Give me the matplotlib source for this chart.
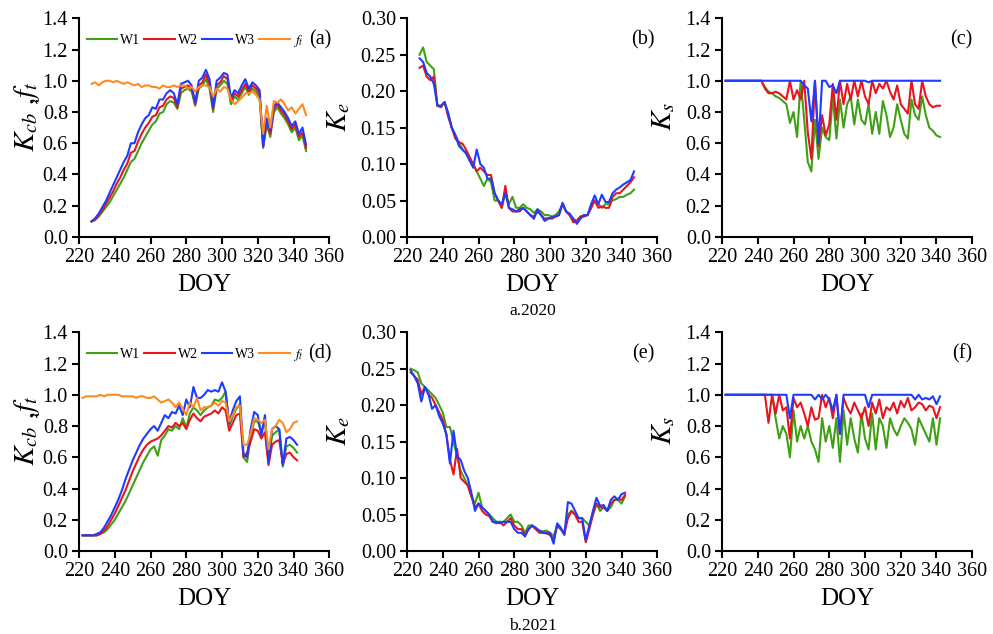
import numpy as np
import matplotlib
matplotlib.use("Agg")
import matplotlib.pyplot as plt

plt.rcParams["font.family"] = ["Liberation Serif", "DejaVu Serif"]
plt.rcParams["mathtext.fontset"] = "stix"

# DOY grids
doy20 = np.arange(227, 348, 2)
doy21 = np.arange(222, 343, 2)
doy20_ks = np.arange(222, 343, 2)

# 2020 Kcb and ft
kcb20_w1 = [0.10, 0.11, 0.13, 0.16, 0.19, 0.22, 0.26, 0.30, 0.34, 0.38,
            0.43, 0.48, 0.50, 0.55, 0.60, 0.64, 0.68, 0.72, 0.74, 0.79,
            0.80, 0.85, 0.87, 0.86, 0.82, 0.92, 0.94, 0.95, 0.93, 0.84,
            0.95, 0.97, 1.01, 0.95, 0.80, 0.95, 0.97, 1.00, 0.98, 0.85,
            0.90, 0.88, 0.92, 0.96, 0.91, 0.95, 0.93, 0.90, 0.57, 0.72,
            0.64, 0.80, 0.83, 0.79, 0.76, 0.72, 0.67, 0.70, 0.62, 0.65, 0.55]
kcb20_w2 = [0.10, 0.11, 0.14, 0.17, 0.21, 0.25, 0.29, 0.34, 0.38, 0.43,
            0.47, 0.54, 0.55, 0.61, 0.66, 0.70, 0.73, 0.77, 0.78, 0.83,
            0.84, 0.88, 0.90, 0.89, 0.83, 0.95, 0.96, 0.97, 0.95, 0.85,
            0.97, 0.99, 1.04, 0.98, 0.82, 0.97, 0.99, 1.03, 1.01, 0.87,
            0.92, 0.90, 0.94, 0.98, 0.93, 0.97, 0.95, 0.92, 0.58, 0.74,
            0.66, 0.82, 0.85, 0.81, 0.78, 0.74, 0.69, 0.72, 0.64, 0.67, 0.57]
kcb20_w3 = [0.10, 0.12, 0.15, 0.19, 0.23, 0.28, 0.33, 0.38, 0.43, 0.48,
            0.52, 0.60, 0.60, 0.67, 0.72, 0.76, 0.78, 0.83, 0.82, 0.88,
            0.88, 0.92, 0.94, 0.92, 0.85, 0.98, 0.99, 1.00, 0.97, 0.86,
            1.00, 1.02, 1.07, 1.01, 0.83, 1.00, 1.02, 1.05, 1.04, 0.89,
            0.94, 0.92, 0.97, 1.01, 0.95, 0.99, 0.97, 0.94, 0.58, 0.76,
            0.68, 0.84, 0.86, 0.83, 0.80, 0.76, 0.71, 0.74, 0.66, 0.70, 0.59]
ft20 = [0.98, 0.99, 0.97, 0.99, 1.00, 1.00, 0.99, 1.00, 0.99, 0.98,
        0.99, 0.98, 0.97, 0.98, 0.96, 0.97, 0.97, 0.96, 0.96, 0.95,
        0.97, 0.96, 0.96, 0.97, 0.96, 0.97, 0.97, 0.95, 0.96, 0.93,
        0.96, 0.97, 0.97, 0.96, 0.90, 0.95, 0.93, 0.96, 0.95, 0.88,
        0.85, 0.87, 0.89, 0.92, 0.92, 0.93, 0.91, 0.88, 0.66, 0.84,
        0.70, 0.87, 0.86, 0.88, 0.85, 0.81, 0.83, 0.79, 0.82, 0.85, 0.78]

# 2020 Ke
ke20_w1 = [0.250, 0.260, 0.240, 0.235, 0.230, 0.180, 0.180, 0.185, 0.170, 0.150,
           0.140, 0.130, 0.120, 0.115, 0.105, 0.100, 0.090, 0.080, 0.070, 0.080,
           0.075, 0.050, 0.050, 0.040, 0.060, 0.045, 0.055, 0.040, 0.040, 0.045,
           0.040, 0.038, 0.033, 0.038, 0.035, 0.030, 0.030, 0.028, 0.030, 0.035,
           0.045, 0.035, 0.030, 0.025, 0.022, 0.028, 0.030, 0.030, 0.040, 0.050,
           0.045, 0.040, 0.045, 0.045, 0.050, 0.052, 0.055, 0.055, 0.058, 0.060, 0.065]
ke20_w2 = [0.232, 0.235, 0.220, 0.215, 0.220, 0.180, 0.178, 0.185, 0.165, 0.150,
           0.135, 0.130, 0.128, 0.120, 0.110, 0.100, 0.090, 0.095, 0.090, 0.085,
           0.085, 0.060, 0.050, 0.040, 0.070, 0.040, 0.035, 0.035, 0.035, 0.040,
           0.035, 0.030, 0.028, 0.035, 0.030, 0.025, 0.026, 0.025, 0.028, 0.030,
           0.045, 0.035, 0.030, 0.020, 0.022, 0.028, 0.028, 0.030, 0.040, 0.050,
           0.040, 0.042, 0.040, 0.040, 0.055, 0.060, 0.060, 0.065, 0.070, 0.075, 0.082]
ke20_w3 = [0.245, 0.240, 0.225, 0.220, 0.210, 0.180, 0.180, 0.185, 0.170, 0.150,
           0.140, 0.125, 0.120, 0.115, 0.105, 0.095, 0.120, 0.100, 0.095, 0.080,
           0.080, 0.060, 0.050, 0.045, 0.060, 0.040, 0.038, 0.035, 0.038, 0.040,
           0.035, 0.030, 0.025, 0.038, 0.030, 0.022, 0.025, 0.027, 0.028, 0.030,
           0.047, 0.035, 0.032, 0.025, 0.018, 0.025, 0.030, 0.030, 0.045, 0.057,
           0.045, 0.058, 0.048, 0.048, 0.060, 0.065, 0.068, 0.072, 0.075, 0.078, 0.090]

# 2020 Ks
ks20_w1 = [1.00, 1.00, 1.00, 1.00, 1.00, 1.00, 1.00, 1.00, 1.00, 1.00,
           1.00, 0.96, 0.93, 0.92, 0.90, 0.89, 0.87, 0.85, 0.73, 0.80,
           0.64, 1.00, 0.75, 0.48, 0.42, 0.75, 0.50, 0.70, 0.64, 0.62,
           0.90, 0.63, 0.88, 0.70, 0.85, 0.90, 0.72, 0.88, 0.75, 0.72,
           0.85, 0.66, 0.80, 0.66, 0.87, 0.78, 0.64, 0.70, 0.85, 0.75,
           0.66, 0.63, 0.88, 0.78, 0.75, 0.90, 0.78, 0.70, 0.68, 0.65, 0.64]
ks20_w2 = [1.00, 1.00, 1.00, 1.00, 1.00, 1.00, 1.00, 1.00, 1.00, 1.00,
           1.00, 0.95, 0.92, 0.92, 0.93, 0.92, 0.90, 0.88, 1.00, 0.88,
           0.94, 0.88, 1.00, 0.67, 0.50, 1.00, 0.58, 0.78, 0.65, 0.72,
           0.98, 0.75, 1.00, 0.85, 0.98, 0.88, 1.00, 0.90, 1.00, 0.90,
           0.85, 1.00, 0.92, 0.98, 0.95, 1.00, 0.93, 0.88, 0.97, 0.85,
           0.82, 0.79, 1.00, 0.85, 0.82, 1.00, 0.90, 0.85, 0.83, 0.84, 0.84]
ks20_w3 = [1.00, 1.00, 1.00, 1.00, 1.00, 1.00, 1.00, 1.00, 1.00, 1.00,
           1.00, 1.00, 1.00, 1.00, 1.00, 1.00, 1.00, 1.00, 1.00, 1.00,
           1.00, 1.00, 0.97, 0.95, 0.74, 1.00, 0.60, 1.00, 1.00, 0.96,
           0.97, 0.92, 1.00, 1.00, 1.00, 1.00, 1.00, 1.00, 1.00, 1.00,
           0.99, 1.00, 1.00, 1.00, 1.00, 1.00, 1.00, 1.00, 1.00, 1.00,
           1.00, 1.00, 1.00, 1.00, 1.00, 1.00, 1.00, 1.00, 1.00, 1.00, 1.00]

# 2021 Kcb and ft
kcb21_w1 = [0.10, 0.10, 0.10, 0.10, 0.10, 0.11, 0.12, 0.14, 0.17, 0.20,
            0.24, 0.28, 0.32, 0.37, 0.42, 0.47, 0.52, 0.57, 0.61, 0.65,
            0.67, 0.61, 0.71, 0.74, 0.78, 0.77, 0.80, 0.78, 0.85, 0.79,
            0.88, 0.92, 0.90, 0.87, 0.90, 0.92, 0.93, 0.97, 0.96, 0.98,
            1.02, 0.80, 0.86, 0.91, 0.94, 0.60, 0.57, 0.73, 0.83, 0.83,
            0.76, 0.83, 0.56, 0.74, 0.76, 0.78, 0.54, 0.67, 0.68, 0.66, 0.63]
kcb21_w2 = [0.10, 0.10, 0.10, 0.10, 0.10, 0.11, 0.13, 0.16, 0.20, 0.24,
            0.29, 0.34, 0.39, 0.45, 0.51, 0.56, 0.61, 0.65, 0.68, 0.70,
            0.71, 0.72, 0.74, 0.77, 0.80, 0.79, 0.82, 0.80, 0.82, 0.78,
            0.84, 0.88, 0.85, 0.83, 0.86, 0.87, 0.88, 0.90, 0.88, 0.92,
            0.90, 0.77, 0.82, 0.87, 0.88, 0.60, 0.63, 0.70, 0.78, 0.77,
            0.72, 0.76, 0.55, 0.68, 0.70, 0.71, 0.56, 0.62, 0.63, 0.60, 0.58]
kcb21_w3 = [0.10, 0.10, 0.10, 0.10, 0.11, 0.12, 0.15, 0.19, 0.23, 0.28,
            0.33, 0.39, 0.46, 0.52, 0.58, 0.63, 0.68, 0.72, 0.75, 0.78,
            0.80, 0.77, 0.82, 0.87, 0.85, 0.89, 0.88, 0.93, 0.87, 0.97,
            0.92, 1.05, 0.98, 0.98, 1.00, 1.03, 1.02, 1.03, 1.02, 1.08,
            1.02, 0.82, 0.90, 0.96, 0.99, 0.62, 0.60, 0.78, 0.89, 0.87,
            0.74, 0.87, 0.57, 0.78, 0.80, 0.78, 0.55, 0.72, 0.73, 0.71, 0.68]
ft21 = [0.98, 0.99, 0.99, 0.99, 0.99, 1.00, 0.99, 1.00, 1.00, 1.00,
        1.00, 0.99, 0.99, 0.99, 0.99, 0.98, 0.99, 0.99, 0.98, 0.98,
        0.99, 0.97, 0.95, 0.96, 0.97, 0.95, 0.92, 0.95, 0.91, 0.87,
        0.95, 0.92, 0.98, 0.90, 0.92, 0.92, 0.93, 0.95, 0.93, 0.96,
        0.95, 0.83, 0.87, 0.92, 0.93, 0.68, 0.68, 0.75, 0.85, 0.84,
        0.82, 0.84, 0.65, 0.78, 0.80, 0.84, 0.82, 0.76, 0.78, 0.82, 0.83]

# 2021 Ke
ke21_w1 = [0.250, 0.248, 0.245, 0.230, 0.225, 0.220, 0.215, 0.210, 0.200, 0.190,
           0.170, 0.170, 0.150, 0.130, 0.110, 0.100, 0.090, 0.075, 0.065, 0.080,
           0.060, 0.055, 0.050, 0.045, 0.040, 0.040, 0.040, 0.045, 0.050, 0.040,
           0.040, 0.035, 0.025, 0.035, 0.035, 0.030, 0.028, 0.027, 0.028, 0.025,
           0.020, 0.035, 0.030, 0.025, 0.050, 0.055, 0.050, 0.045, 0.045, 0.040,
           0.035, 0.050, 0.065, 0.055, 0.060, 0.055, 0.060, 0.070, 0.070, 0.065, 0.075]
ke21_w2 = [0.245, 0.240, 0.235, 0.215, 0.225, 0.215, 0.210, 0.200, 0.190, 0.180,
           0.160, 0.125, 0.105, 0.140, 0.100, 0.095, 0.090, 0.075, 0.060, 0.065,
           0.055, 0.050, 0.048, 0.040, 0.038, 0.040, 0.035, 0.040, 0.045, 0.035,
           0.030, 0.030, 0.022, 0.030, 0.035, 0.030, 0.025, 0.025, 0.024, 0.022,
           0.015, 0.035, 0.030, 0.023, 0.045, 0.055, 0.050, 0.040, 0.040, 0.012,
           0.030, 0.050, 0.065, 0.060, 0.060, 0.055, 0.065, 0.070, 0.072, 0.070, 0.077]
ke21_w3 = [0.248, 0.240, 0.230, 0.205, 0.225, 0.215, 0.195, 0.200, 0.185, 0.175,
           0.160, 0.120, 0.165, 0.130, 0.125, 0.110, 0.100, 0.080, 0.055, 0.065,
           0.060, 0.055, 0.050, 0.040, 0.040, 0.038, 0.040, 0.040, 0.040, 0.030,
           0.025, 0.025, 0.020, 0.030, 0.035, 0.032, 0.028, 0.025, 0.025, 0.025,
           0.010, 0.038, 0.032, 0.022, 0.067, 0.065, 0.055, 0.045, 0.045, 0.015,
           0.035, 0.055, 0.073, 0.062, 0.063, 0.055, 0.070, 0.075, 0.070, 0.078, 0.080]

# 2021 Ks
ks21_w1 = [1.00, 1.00, 1.00, 1.00, 1.00, 1.00, 1.00, 1.00, 1.00, 1.00,
           1.00, 1.00, 1.00, 1.00, 0.85, 0.72, 0.80, 0.75, 0.60, 0.90,
           0.70, 0.80, 0.72, 0.80, 0.70, 0.65, 0.57, 0.85, 0.70, 0.80,
           0.66, 0.85, 0.57, 0.90, 0.68, 0.85, 0.72, 0.63, 0.88, 0.72,
           0.65, 0.88, 0.65, 0.85, 0.80, 0.66, 0.85, 0.78, 0.74, 0.80,
           0.85, 0.82, 0.78, 0.68, 0.85, 0.80, 0.75, 0.70, 0.85, 0.68, 0.85]
ks21_w2 = [1.00, 1.00, 1.00, 1.00, 1.00, 1.00, 1.00, 1.00, 1.00, 1.00,
           1.00, 1.00, 0.82, 1.00, 0.88, 1.00, 0.90, 0.92, 0.72, 0.98,
           0.92, 0.95, 0.88, 0.80, 0.92, 0.84, 0.85, 1.00, 0.92, 0.98,
           0.85, 1.00, 0.75, 0.98, 0.92, 0.88, 0.95, 0.90, 0.85, 0.92,
           0.80, 0.95, 0.88, 0.97, 0.85, 0.92, 0.90, 0.95, 0.88, 0.96,
           0.92, 0.98, 0.90, 0.92, 0.95, 0.94, 0.90, 0.93, 0.92, 0.85, 0.92]
ks21_w3 = [1.00, 1.00, 1.00, 1.00, 1.00, 1.00, 1.00, 1.00, 1.00, 1.00,
           1.00, 1.00, 1.00, 1.00, 1.00, 1.00, 1.00, 1.00, 0.85, 1.00,
           1.00, 1.00, 1.00, 1.00, 1.00, 0.97, 1.00, 0.97, 1.00, 0.97,
           0.90, 1.00, 0.75, 1.00, 1.00, 1.00, 1.00, 1.00, 1.00, 1.00,
           0.92, 1.00, 1.00, 1.00, 1.00, 1.00, 1.00, 1.00, 1.00, 1.00,
           1.00, 1.00, 1.00, 0.97, 1.00, 0.97, 0.98, 0.97, 0.99, 0.94, 0.99]

c_w1 = "#3fa014"
c_w2 = "#e8141e"
c_w3 = "#1e3cff"
c_ft = "#ff8a1e"

fig = plt.figure(figsize=(9.93, 6.34), dpi=100)
lefts = [0.0796, 0.4099, 0.7271]
width = 0.252
bottoms = [0.6262, 0.1309]
height = 0.345
axes = [[fig.add_axes([l, b, width, height]) for l in lefts] for b in bottoms]


def style(ax, ymax, ystep, fmt, label, lx):
    ax.set_xlim(220, 360)
    ax.set_xticks(np.arange(220, 361, 20))
    ax.set_ylim(0, ymax)
    ax.set_yticks(np.arange(0, ymax + ystep / 2, ystep))
    ax.yaxis.set_major_formatter(plt.FormatStrFormatter(fmt))
    for s in ["top", "right"]:
        ax.spines[s].set_visible(False)
    for s in ["left", "bottom"]:
        ax.spines[s].set_linewidth(1.5)
    ax.tick_params(direction="out", length=5, width=1.5, labelsize=14.5, pad=3)
    ax.set_xlabel("DOY", fontsize=18, labelpad=5)
    ax.set_ylabel(label, fontsize=21)
    ax.yaxis.set_label_coords(lx, 0.55)


panels = [
    (doy20, kcb20_w1, kcb20_w2, kcb20_w3, ft20, doy20, ke20_w1, ke20_w2, ke20_w3,
     doy20_ks, ks20_w1, ks20_w2, ks20_w3, ["(a)", "(b)", "(c)"]),
    (doy21, kcb21_w1, kcb21_w2, kcb21_w3, ft21, doy21, ke21_w1, ke21_w2, ke21_w3,
     doy21, ks21_w1, ks21_w2, ks21_w3, ["(d)", "(e)", "(f)"]),
]

for row, p in enumerate(panels):
    (dk, k1, k2, k3, ft, de, e1, e2, e3, ds, s1, s2, s3, tags) = p
    ax1, ax2, ax3 = axes[row]
    lw = 1.5
    ax1.plot(dk, k1, color=c_w1, lw=lw, label="W1")
    ax1.plot(dk, k2, color=c_w2, lw=lw, label="W2")
    ax1.plot(dk, k3, color=c_w3, lw=lw, label="W3")
    ax1.plot(dk, ft, color=c_ft, lw=lw, label=r"$f_t$")
    style(ax1, 1.4, 0.2, "%.1f", r"$K_{cb}$ ,$f_t$", -0.15)
    ax1.legend(loc="center left", bbox_to_anchor=(0.03, 0.895), ncol=4,
               frameon=False, fontsize=10, handlelength=2.2,
               handletextpad=0.2, columnspacing=0.3, borderaxespad=0,
               borderpad=0)

    ax2.plot(de, e1, color=c_w1, lw=lw)
    ax2.plot(de, e2, color=c_w2, lw=lw)
    ax2.plot(de, e3, color=c_w3, lw=lw)
    style(ax2, 0.30, 0.05, "%.2f", r"$K_e$", -0.22)

    ax3.plot(ds, s1, color=c_w1, lw=lw)
    ax3.plot(ds, s2, color=c_w2, lw=lw)
    ax3.plot(ds, s3, color=c_w3, lw=lw)
    style(ax3, 1.4, 0.2, "%.1f", r"$K_s$", -0.18)

    for ax, t, xr in zip(axes[row], tags, [1.01, 0.99, 1.0]):
        ax.text(xr, 0.9, t, transform=ax.transAxes, ha="right", va="center",
                fontsize=14.5)

fig.text(0.537, 1 - 311 / 634, "a.2020", ha="center", va="center", fontsize=12.5)
fig.text(0.537, 1 - 626 / 634, "b.2021", ha="center", va="center", fontsize=12.5)

fig.savefig("out.png", dpi=100)
